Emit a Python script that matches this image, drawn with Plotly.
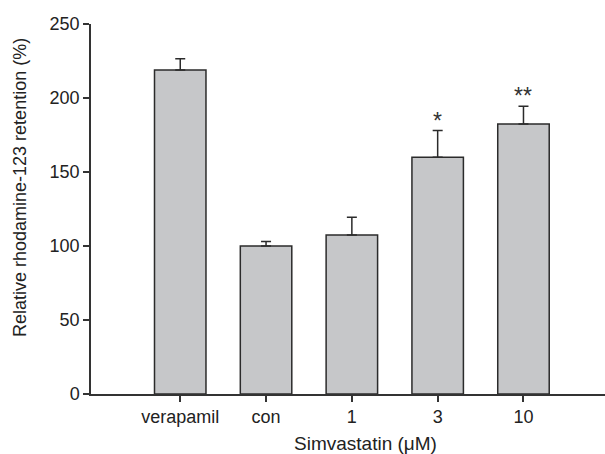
import plotly.graph_objects as go

categories = ["verapamil", "con", "1", "3", "10"]
values = [219, 100, 107.5, 160, 182.5]
errors = [7.5, 3, 12, 18, 12]
annotations_text = ["", "", "", "*", "**"]

FONT = "Liberation Sans, Arial"
L, R, T, B = 91, 0, 24, 60
W, H = 605, 454
pw, ph = W - L - R, H - T - B

fig = go.Figure()
fig.add_trace(go.Bar(
    x=list(range(len(categories))),
    y=values,
    width=0.6,
    marker=dict(color="#c6c7c9", line=dict(color="#2b2b2b", width=1.5)),
    error_y=dict(type="data", array=errors, arrayminus=[0]*len(errors), symmetric=False,
                 color="#2b2b2b", thickness=1.5, width=5),
))

for i, t in enumerate(annotations_text):
    if t:
        fig.add_annotation(x=i, y=values[i] + errors[i], text=t, showarrow=False,
                           yanchor="bottom", yshift=-5,
                           font=dict(size=23, color="#333", family=FONT))

# axis titles as annotations for exact placement
fig.add_annotation(xref="paper", yref="paper", x=(365 - L) / pw, y=-(443 - (H - B)) / ph,
                   text="Simvastatin (μM)", showarrow=False, xanchor="center", yanchor="middle",
                   font=dict(size=19, color="#222", family=FONT))
fig.add_annotation(xref="paper", yref="paper", x=(20 - L) / pw, y=((H - B) - 188) / ph,
                   text="Relative rhodamine-123 retention (%)", showarrow=False, textangle=-90,
                   xanchor="center", yanchor="middle",
                   font=dict(size=18, color="#222", family=FONT))

fig.update_layout(
    width=W, height=H,
    margin=dict(l=L, r=R, t=T, b=B),
    plot_bgcolor="white", paper_bgcolor="white",
    showlegend=False,
    font=dict(family=FONT, color="#222", size=18),
)
fig.update_xaxes(
    range=[-1.04, 4.95], automargin=False,
    tickmode="array", tickvals=list(range(len(categories))), ticktext=categories,
    showline=True, linecolor="#333", linewidth=1.5,
    ticks="outside", ticklen=6, tickcolor="#333", tickwidth=1.5,
    showgrid=False, zeroline=False,
    tickfont=dict(size=18),
)
fig.update_yaxes(
    range=[0, 250], tickvals=[0, 50, 100, 150, 200, 250], automargin=False,
    showline=True, linecolor="#333", linewidth=1.5,
    ticks="outside", ticklen=6, tickcolor="#333", tickwidth=1.5,
    showgrid=False, zeroline=False,
    tickfont=dict(size=18),
)

fig.write_html("out.html", config={"displayModeBar": False},
               post_script="document.body.style.margin='0px';document.body.style.overflow='hidden';")
